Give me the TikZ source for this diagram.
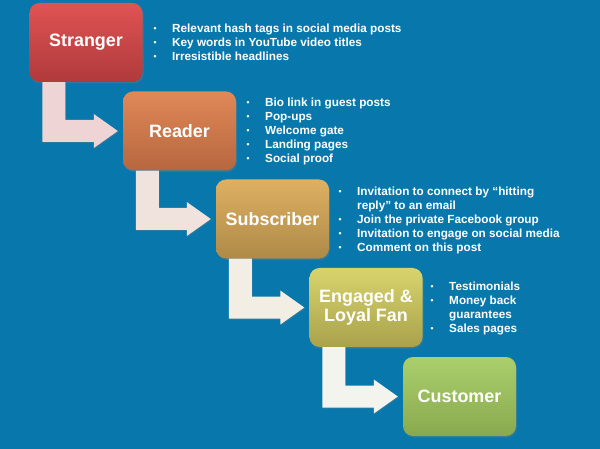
\documentclass[tikz,border=0pt]{standalone}
\usepackage{fontspec}
\setmainfont{Liberation Sans}
\usetikzlibrary{calc,shadows}

\definecolor{bgblue}{HTML}{0878AC}
\definecolor{strTop}{HTML}{E05353}
\definecolor{strBot}{HTML}{B03A3C}
\definecolor{reaTop}{HTML}{E08858}
\definecolor{reaBot}{HTML}{B6673F}
\definecolor{subTop}{HTML}{DEB062}
\definecolor{subBot}{HTML}{AE8A48}
\definecolor{engTop}{HTML}{D8D46C}
\definecolor{engBot}{HTML}{A9A24C}
\definecolor{cusTop}{HTML}{AACF6C}
\definecolor{cusBot}{HTML}{8AA94E}
\definecolor{arrowA}{HTML}{EED4D4}
\definecolor{arrowB}{HTML}{F0E3DD}
\definecolor{arrowC}{HTML}{F2EEE4}
\definecolor{arrowD}{HTML}{F3F4EE}

\newcommand{\bul}{\raisebox{1.3bp}{\fontsize{8.5}{8.5}\selectfont\textbullet}}

\begin{document}
\begin{tikzpicture}[x=1bp, y=-1bp,
    stagebox/.style={rounded corners=10bp, minimum width=113bp, minimum height=79bp,
      inner sep=0pt, text=white, align=center, font=\fontsize{18}{19}\selectfont\bfseries,
      drop shadow={opacity=0.3, shadow xshift=1bp, shadow yshift=-1.5bp}},
    listtext/.style={anchor=base west, inner sep=0pt, text=white,
      font=\fontsize{11.8}{14}\selectfont\bfseries}]
  \fill[bgblue] (0,0) rectangle (600,449);
  \useasboundingbox (0,0) rectangle (600,449);

  % the five stages
  \node[stagebox, top color=strTop, bottom color=strBot] (stranger) at (86,42.5) {Stranger};
  \node[stagebox, top color=reaTop, bottom color=reaBot] (reader) at (179.5,131) {Reader};
  \node[stagebox, top color=subTop, bottom color=subBot] (subscriber) at (272.5,219) {Subscriber};
  \node[stagebox, top color=engTop, bottom color=engBot] (engaged) at (366,307.5) {Engaged \&\\Loyal Fan};
  \node[stagebox, top color=cusTop, bottom color=cusBot] (customer) at (459.5,396.5) {Customer};

  % bent arrows between stages
  \foreach \from/\to/\arrowcol in {stranger/reader/arrowA, reader/subscriber/arrowB,
      subscriber/engaged/arrowC, engaged/customer/arrowD}
    \fill[\arrowcol, drop shadow={opacity=0.3, shadow xshift=0.8bp, shadow yshift=-1bp}]
      ($(\from.south west)+(13bp,0)$) -- ($(\from.south west)+(36bp,0)$)
      -- ($(\from.south west |- \to.west)+(36bp,11bp)$) -- ($(\to.west)+(-29bp,11bp)$)
      -- ($(\to.west)+(-29bp,17bp)$) -- ($(\to.west)+(-5bp,0)$)
      -- ($(\to.west)+(-29bp,-17bp)$) -- ($(\to.west)+(-29bp,-11bp)$)
      -- ($(\from.south west |- \to.west)+(13bp,-11bp)$) -- cycle;

  % bullet lists
  \node[listtext] (strangerlist) at (153.5,33) {\begin{tabular}[t]{@{}p{18.5bp}@{}l@{}}
    \bul & Relevant hash tags in social media posts\\
    \bul & Key words in YouTube video titles\\
    \bul & Irresistible headlines
  \end{tabular}};
  \node[listtext] (readerlist) at (246.5,107) {\begin{tabular}[t]{@{}p{18.5bp}@{}l@{}}
    \bul & Bio link in guest posts\\
    \bul & Pop-ups\\
    \bul & Welcome gate\\
    \bul & Landing pages\\
    \bul & Social proof
  \end{tabular}};
  \node[listtext] (subscriberlist) at (338.5,196) {\begin{tabular}[t]{@{}p{18.5bp}@{}l@{}}
    \bul & Invitation to connect by “hitting\\
         & reply” to an email\\
    \bul & Join the private Facebook group\\
    \bul & Invitation to engage on social media\\
    \bul & Comment on this post
  \end{tabular}};
  \node[listtext] (engagedlist) at (430.5,291) {\begin{tabular}[t]{@{}p{18.5bp}@{}l@{}}
    \bul & Testimonials\\
    \bul & Money back\\
         & guarantees\\
    \bul & Sales pages
  \end{tabular}};
\end{tikzpicture}
\end{document}
